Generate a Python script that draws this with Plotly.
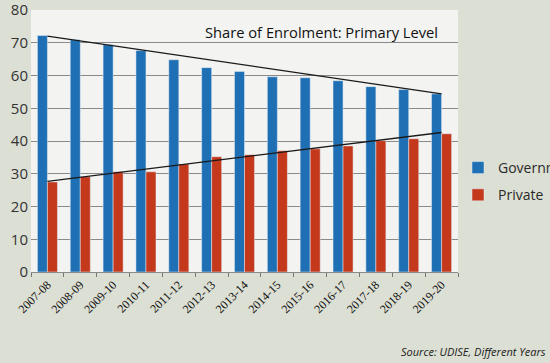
import plotly.graph_objects as go

years = ["2007-08", "2008-09", "2009-10", "2010-11", "2011-12", "2012-13", "2013-14",
         "2014-15", "2015-16", "2016-17", "2017-18", "2018-19", "2019-20"]
government = [72.2, 70.9, 69.4, 67.6, 64.8, 62.4, 61.2, 59.6, 59.3, 58.4, 56.6, 55.7, 54.4]
private = [27.5, 29.1, 30.6, 30.6, 33.0, 35.2, 35.8, 37.0, 37.6, 38.5, 40.1, 40.7, 42.2]
gov_trend_ends = [72.0, 54.4]
priv_trend_ends = [27.7, 42.6]
y_ticks = [0, 10, 20, 30, 40, 50, 60, 70, 80]

BLUE = "#1e6fb3"
RED = "#c4391c"

fig = go.Figure()
fig.add_trace(go.Bar(x=years, y=government, name="Government", marker_color=BLUE,
                     legendgroup="g"))
fig.add_trace(go.Bar(x=years, y=private, name="Private", marker_color=RED,
                     legendgroup="p"))
fig.add_trace(go.Scatter(x=[years[0], years[-1]], y=gov_trend_ends, mode="lines",
                         line=dict(color="#1a1a1a", width=1.3), showlegend=False))
fig.add_trace(go.Scatter(x=[years[0], years[-1]], y=priv_trend_ends, mode="lines",
                         line=dict(color="#1a1a1a", width=1.3), showlegend=False))

L, R, T, B = 31, 458, 10, 272
fig.update_layout(
    width=550, height=363,
    margin=dict(l=L, r=550 - R, t=T, b=363 - B, autoexpand=False),
    paper_bgcolor="#dcdfd3",
    plot_bgcolor="#f3f4f2",
    barmode="group",
    bargap=0.39,
    bargroupgap=0,
    showlegend=True,
    legend=dict(x=(458 - L) / (R - L), y=(272 - 152) / (B - T), xanchor="left", yanchor="top",
                font=dict(family="Open Sans, sans-serif", size=14, color="#2a2a2a"),
                bgcolor="rgba(0,0,0,0)", tracegroupgap=6),
    annotations=[
        dict(text="Share of Enrolment: Primary Level", x=(440 - L) / (R - L),
             y=(272 - 32) / (B - T),
             xref="paper", yref="paper", xanchor="right", yanchor="middle",
             showarrow=False,
             font=dict(family="Open Sans, sans-serif", size=14.7, color="#111111")),
        dict(text="<i>Source: UDISE, Different Years</i>", x=(548 - L) / (R - L),
             y=(272 - 351) / (B - T),
             xref="paper", yref="paper", xanchor="right", yanchor="middle",
             showarrow=False,
             font=dict(family="Open Sans, sans-serif", size=11, color="#1a1a1a")),
    ],
)

fig.update_yaxes(range=[0, 80], tickvals=y_ticks, showgrid=True, gridcolor="#8a8a8a",
                 gridwidth=1, zeroline=False, showline=False, automargin=False,
                 ticklabeloverflow="allow",
                 tickfont=dict(family="Open Sans, sans-serif", size=15, color="#333333"),
                 ticks="", ticklabelstandoff=2)
fig.update_xaxes(type="category", tickangle=-45, tickson="boundaries", ticks="outside",
                 ticklen=4, automargin=False,
                 tickcolor="#777777", showline=True, linecolor="#8a8a8a",
                 tickfont=dict(family="Liberation Serif, serif", size=12, color="#111111"))

fig.write_html("out.html", config={"displayModeBar": False},
               post_script="document.body.style.margin='0px';document.body.style.overflow='hidden';")
